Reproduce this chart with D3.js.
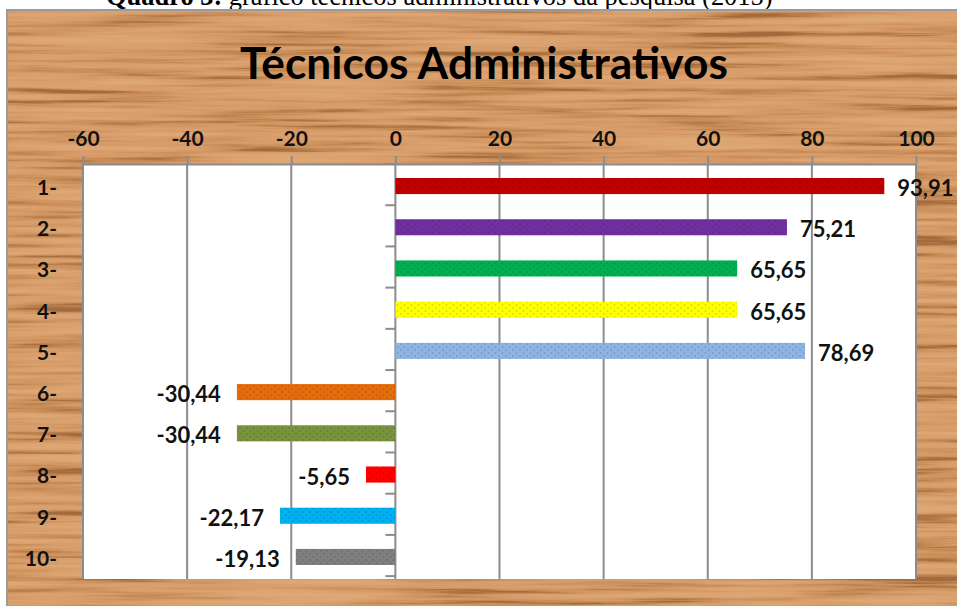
<!DOCTYPE html>
<html lang="pt">
<head>
<meta charset="UTF-8">
<title>Técnicos Administrativos</title>
<script src="https://d3js.org/d3.v7.min.js"></script>
<style>
  body { margin: 0; background: #fff; }
  svg { display: block; }
  .caption { font-family: "Liberation Serif", "Times New Roman", serif; fill: #000; }
  .title { font-family: Lato, "Open Sans", sans-serif; font-weight: 700; fill: #000; }
  .axis text { font-family: Lato, "Open Sans", sans-serif; font-weight: 700; fill: #111; }
  .val { font-family: Lato, "Open Sans", sans-serif; font-weight: 700; font-size: 22px; fill: #111; }
</style>
</head>
<body>
<svg width="957" height="606"></svg>
<script>
const categories = ["1-", "2-", "3-", "4-", "5-", "6-", "7-", "8-", "9-", "10-"];
const values = [93.91, 75.21, 65.65, 65.65, 78.69, -30.44, -30.44, -5.65, -22.17, -19.13];
const barColors = ["#c00000", "#7030a0", "#00b050", "#ffff00", "#8db4e2",
                   "#e46c0a", "#77933c", "#ff0000", "#00b0f0", "#7f7f7f"];
const xTicks = [-60, -40, -20, 0, 20, 40, 60, 80, 100];

const svg = d3.select("svg");
const plot = {left: 83, right: 916, top: 164, bottom: 579};

const defs = svg.append("defs");

// wood grain: stretched noise mapped onto brown tones
const wood = defs.append("filter")
    .attr("id", "wood")
    .attr("x", 0).attr("y", 0).attr("width", 1).attr("height", 1)
    .attr("color-interpolation-filters", "sRGB");
wood.append("feTurbulence")
    .attr("type", "fractalNoise")
    .attr("baseFrequency", "0.005 0.16")
    .attr("numOctaves", 4)
    .attr("seed", 3);
wood.append("feColorMatrix")
    .attr("type", "matrix")
    .attr("values", "1.8 0 0 0 -0.4  1.8 0 0 0 -0.4  1.8 0 0 0 -0.4  0 0 0 0 1");
const ct = wood.append("feComponentTransfer");
ct.append("feFuncR").attr("type", "table").attr("tableValues", "0.64 0.78 0.84 0.86 0.87");
ct.append("feFuncG").attr("type", "table").attr("tableValues", "0.42 0.55 0.61 0.64 0.66");
ct.append("feFuncB").attr("type", "table").attr("tableValues", "0.24 0.34 0.41 0.44 0.47");

const dots = defs.append("pattern")
    .attr("id", "dots")
    .attr("width", 7).attr("height", 6)
    .attr("patternUnits", "userSpaceOnUse");
dots.append("circle").attr("cx", 2).attr("cy", 2).attr("r", 0.9).attr("fill", "rgba(0,0,0,0.14)");
dots.append("circle").attr("cx", 5.5).attr("cy", 5).attr("r", 0.9).attr("fill", "rgba(0,0,0,0.14)");

// caption above the chart (cut off at the top, as in the source page)
const cap = svg.append("text")
    .attr("class", "caption")
    .attr("x", 106)
    .attr("y", 5)
    .style("font-size", "20px");
cap.append("tspan").attr("font-weight", "bold").text("Quadro 3:");
cap.append("tspan").text(" gráfico técnicos administrativos da pesquisa (2015)");
const capW = cap.node().getComputedTextLength();
cap.style("font-size", (20 * 667 / capW) + "px");

// wooden frame
svg.append("rect")
    .attr("x", 7).attr("y", 10)
    .attr("width", 960).attr("height", 610)
    .attr("fill", "#d39c68")
    .attr("filter", "url(#wood)");
svg.append("rect")
    .attr("x", 7).attr("y", 10)
    .attr("width", 960).attr("height", 610)
    .attr("fill", "none")
    .attr("stroke", "#9a9a9a")
    .attr("stroke-width", 2);

const title = svg.append("text")
    .attr("class", "title")
    .attr("x", 484)
    .attr("y", 79)
    .attr("text-anchor", "middle")
    .style("font-size", "40px")
    .text("Técnicos Administrativos");
const tW = title.node().getComputedTextLength();
title.style("font-size", (40 * 488 / tW) + "px");

const x = d3.scaleLinear().domain([-60, 100]).range([plot.left, plot.right]);
const y = d3.scaleBand().domain(categories).range([plot.top, plot.bottom])
    .paddingInner(0.61).paddingOuter(0.34);

svg.append("rect")
    .attr("x", plot.left).attr("y", plot.top)
    .attr("width", plot.right - plot.left).attr("height", plot.bottom - plot.top)
    .attr("fill", "#fff");

// vertical gridlines
svg.append("g")
    .selectAll("line")
    .data(xTicks)
    .join("line")
    .attr("x1", d => x(d)).attr("x2", d => x(d))
    .attr("y1", plot.top).attr("y2", plot.bottom)
    .attr("stroke", "#8c8c8c")
    .attr("stroke-width", 2);

// top value axis
const xAxis = svg.append("g")
    .attr("class", "axis")
    .attr("transform", `translate(0,${plot.top})`)
    .call(d3.axisTop(x).tickValues(xTicks).tickFormat(d => String(d))
        .tickSize(8).tickSizeOuter(0).tickPadding(10));
xAxis.select(".domain").attr("stroke", "#8c8c8c").attr("stroke-width", 2);
xAxis.selectAll(".tick line").attr("stroke", "#8c8c8c").attr("stroke-width", 2);
xAxis.selectAll("text").style("font-size", "21px").attr("fill", "#111");

// category axis labels on the left
const yAxis = svg.append("g")
    .attr("class", "axis")
    .attr("transform", `translate(${plot.left},0)`)
    .call(d3.axisLeft(y).tickSize(0).tickPadding(26));
yAxis.select(".domain").remove();
yAxis.selectAll("text").style("font-size", "21px").attr("fill", "#111").attr("dy", "0.42em");

// small ticks between categories on the zero line
const step = y.step();
const bounds = d3.range(categories.length + 1).map(i => plot.top + i * step);
svg.append("g")
    .selectAll("line")
    .data(bounds)
    .join("line")
    .attr("x1", x(0) - 10).attr("x2", x(0))
    .attr("y1", d => d).attr("y2", d => d)
    .attr("stroke", "#8c8c8c")
    .attr("stroke-width", 2);

const rows = values.map((v, i) => ({cat: categories[i], v, color: barColors[i]}));

const bars = svg.append("g");
bars.selectAll("rect.bar")
    .data(rows)
    .join("rect")
    .attr("class", "bar")
    .attr("x", d => x(Math.min(0, d.v)))
    .attr("y", d => y(d.cat))
    .attr("width", d => Math.abs(x(d.v) - x(0)))
    .attr("height", y.bandwidth())
    .attr("fill", d => d.color);
bars.selectAll("rect.tex")
    .data(rows)
    .join("rect")
    .attr("class", "tex")
    .attr("x", d => x(Math.min(0, d.v)))
    .attr("y", d => y(d.cat))
    .attr("width", d => Math.abs(x(d.v) - x(0)))
    .attr("height", y.bandwidth())
    .attr("fill", "url(#dots)");

const fmt = d3.formatLocale({decimal: ",", thousands: ".", grouping: [3], currency: ["R$", ""], minus: "-"}).format(".2f");

svg.append("g")
    .selectAll("text")
    .data(rows)
    .join("text")
    .attr("class", "val")
    .attr("x", d => d.v >= 0 ? x(d.v) + 13 : x(d.v) - 16)
    .attr("y", d => y(d.cat) + y.bandwidth() / 2 + 10)
    .attr("text-anchor", d => d.v >= 0 ? "start" : "end")
    .text(d => fmt(d.v));
</script>
</body>
</html>
